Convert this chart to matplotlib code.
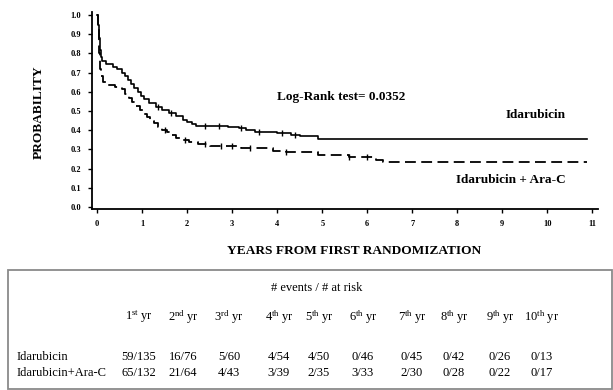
import matplotlib
matplotlib.use("Agg")
import matplotlib.pyplot as plt
from matplotlib.patches import Rectangle
import numpy as np

plt.rcParams['font.family'] = ['Liberation Serif', 'DejaVu Serif']
plt.rcParams['mathtext.fontset'] = 'custom'
plt.rcParams['mathtext.rm'] = 'Liberation Serif'
plt.rcParams['mathtext.it'] = 'Liberation Serif:italic'
plt.rcParams['mathtext.bf'] = 'Liberation Serif:bold'

# Kaplan-Meier step data
ida_time = [0, 0.02, 0.04, 0.06, 0.08, 0.10, 0.20, 0.35, 0.45, 0.55, 0.62, 0.68, 0.75,
            0.82, 0.90, 0.98, 1.05, 1.15, 1.30, 1.45, 1.60, 1.75, 1.90, 2.00, 2.10,
            2.20, 2.90, 3.15, 3.30, 3.50, 4.00, 4.30, 4.50, 4.90, 10.88]
ida_surv = [1.0, 0.95, 0.88, 0.82, 0.78, 0.76, 0.745, 0.73, 0.72, 0.70, 0.68, 0.66, 0.64,
            0.62, 0.60, 0.58, 0.56, 0.54, 0.52, 0.505, 0.49, 0.475, 0.455, 0.44, 0.43,
            0.42, 0.415, 0.41, 0.40, 0.39, 0.385, 0.375, 0.37, 0.355, 0.355]

arac_time = [0, 0.02, 0.04, 0.06, 0.08, 0.12, 0.25, 0.40, 0.55, 0.62, 0.70, 0.78, 0.86,
             0.94, 1.02, 1.10, 1.18, 1.26, 1.35, 1.45, 1.55, 1.65, 1.75, 1.90, 2.05,
             2.25, 2.50, 2.90, 3.20, 3.90, 4.20, 4.90, 5.60, 6.20, 6.35, 10.88]
arac_surv = [1.0, 0.93, 0.80, 0.72, 0.68, 0.65, 0.635, 0.625, 0.615, 0.59, 0.565, 0.545, 0.525,
             0.505, 0.485, 0.47, 0.45, 0.435, 0.415, 0.40, 0.39, 0.375, 0.36, 0.348, 0.338,
             0.33, 0.32, 0.315, 0.305, 0.29, 0.285, 0.27, 0.262, 0.245, 0.236, 0.236]

# censor marks (approximate)
ida_cens = [1.35, 1.65, 2.4, 2.7, 3.2, 3.6, 4.1, 4.4]
arac_cens = [1.5, 1.95, 2.4, 2.75, 3.0, 3.4, 4.2, 5.6, 6.0]

x_ticks = list(range(0, 12))
y_ticks = [0.0, 0.1, 0.2, 0.3, 0.4, 0.5, 0.6, 0.7, 0.8, 0.9, 1.0]

groups = ["Idarubicin", "Idarubicin+Ara-C"]
years = ["1$^{\\rm st}$ yr", "2$^{\\rm nd}$ yr", "3$^{\\rm rd}$ yr", "4$^{\\rm th}$ yr",
         "5$^{\\rm th}$ yr", "6$^{\\rm th}$ yr", "7$^{\\rm th}$ yr", "8$^{\\rm th}$ yr",
         "9$^{\\rm th}$ yr", "10$^{\\rm th}$ yr"]
ida_risk = ["59/135", "16/76", "5/60", "4/54", "4/50", "0/46", "0/45", "0/42", "0/26", "0/13"]
arac_risk = ["65/132", "21/64", "4/43", "3/39", "2/35", "3/33", "2/30", "0/28", "0/22", "0/17"]

W, H = 613, 390
fig = plt.figure(figsize=(W / 100, H / 100), dpi=100)
ax = fig.add_axes([92.3 / W, 1 - 208.5 / H, (598 - 92.3) / W, (208.5 - 11.7) / H])

ax.step(ida_time, ida_surv, where='post', color='black', lw=1.2)
ax.step(arac_time, arac_surv, where='post', color='black', lw=1.3, dashes=(6, 3))

def step_val(t, times, surv):
    i = np.searchsorted(times, t, side='right') - 1
    return surv[i]

ax.plot(ida_cens, [step_val(t, ida_time, ida_surv) for t in ida_cens], ls='none',
        marker='|', ms=4, mew=1, color='black')
ax.plot(arac_cens, [step_val(t, arac_time, arac_surv) for t in arac_cens], ls='none',
        marker='|', ms=4, mew=1, color='black')

ax.set_xlim(-0.11, 11.13)
ax.set_ylim(-0.008, 1.017)
ax.set_xticks(x_ticks)
ax.set_yticks(y_ticks)
ax.set_yticklabels([f"{v:.1f}" for v in y_ticks])
ax.tick_params(axis='both', direction='out', length=3, width=1, labelsize=6, pad=5)
for lab in ax.get_xticklabels() + ax.get_yticklabels():
    lab.set_fontweight('bold')
for s in ['top', 'right']:
    ax.spines[s].set_visible(False)
for s in ['left', 'bottom']:
    ax.spines[s].set_linewidth(1.3)

ax.text(5.42, 0.573, "Log-Rank test= 0.0352", ha='center', va='center',
        fontsize=9.5, fontweight='bold')
ax.text(10.4, 0.479, "Idarubicin", ha='right', va='center', fontsize=9.5, fontweight='bold')
ax.text(10.4, 0.14, "Idarubicin + Ara-C", ha='right', va='center', fontsize=9.5,
        fontweight='bold')

def ft(x, y, s, **kw):
    fig.text(x / W, 1 - y / H, s, **kw)

ft(39, 112, "PROBABILITY", rotation=90, ha='center', va='center', fontsize=9.6,
   fontweight='bold')
ft(354, 251, "YEARS FROM FIRST RANDOMIZATION", ha='center', va='center', fontsize=9.6,
   fontweight='bold')

# table box
fig.patches.append(Rectangle((8 / W, 1 - 389 / H), (612 - 8) / W, (389 - 270) / H,
                             transform=fig.transFigure, fill=False, edgecolor='#8a8a8a',
                             lw=1.3))

ft(317, 288, "# events / # at risk", ha='center', va='center', fontsize=9)
col_x = [139, 183, 229, 279, 319, 363, 412, 454, 500, 542]
for cx, lab in zip(col_x, years):
    ft(cx, 317, lab, ha='center', va='center', fontsize=9)
row_y = [357, 373]
for ry, g, vals in zip(row_y, groups, [ida_risk, arac_risk]):
    ft(17, ry, g, ha='left', va='center', fontsize=9)
    for cx, v in zip(col_x, vals):
        ft(cx, ry, v, ha='center', va='center', fontsize=9)

fig.savefig("out.png", dpi=100)
